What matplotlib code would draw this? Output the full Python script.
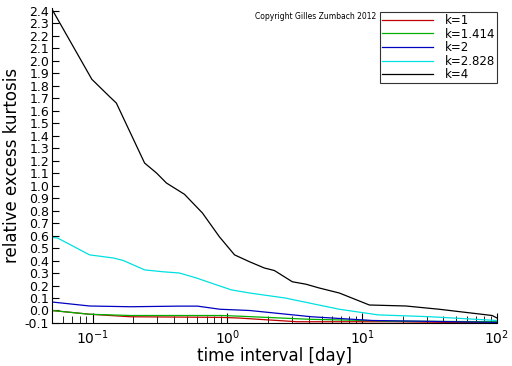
from matplotlib import pyplot as plt
from matplotlib.ticker import LogLocator, NullFormatter
import numpy as np

# time interval [day] and relative excess kurtosis per k
t_k4 = [0.05, 0.0987, 0.134, 0.150, 0.243, 0.298, 0.353, 0.48, 0.653, 0.872,
        1.13, 1.46, 1.88, 2.23, 3.03, 3.84, 4.8, 6.76, 11.3, 21.1, 37.2, 92, 100]
k4 = [2.41, 1.85, 1.71, 1.66, 1.18, 1.10, 1.02, 0.93, 0.78, 0.59,
      0.445, 0.39, 0.34, 0.32, 0.23, 0.21, 0.18, 0.14, 0.044, 0.036, 0.01, -0.04, -0.06]

t_k2828 = [0.05, 0.055, 0.095, 0.143, 0.169, 0.243, 0.332, 0.44, 0.59, 0.83,
           1.07, 1.46, 2.68, 6.76, 13.1, 32, 100]
k2828 = [0.585, 0.58, 0.445, 0.42, 0.40, 0.325, 0.31, 0.30, 0.26, 0.205,
         0.165, 0.14, 0.10, 0.01, -0.035, -0.05, -0.08]

t_k2 = [0.05, 0.095, 0.19, 0.44, 0.6, 0.88, 1.46, 4.2, 11.9, 100]
k2 = [0.068, 0.036, 0.03, 0.035, 0.035, 0.01, 0.0, -0.05, -0.08, -0.095]

t_k1414 = [0.05, 0.095, 0.19, 0.9, 1.2, 4.0, 17, 100]
k1414 = [0.0, -0.03, -0.04, -0.04, -0.045, -0.07, -0.085, -0.09]

t_k1 = [0.05, 0.095, 0.135, 0.19, 0.9, 1.2, 3.3, 17, 100]
k1 = [0.0, -0.03, -0.04, -0.05, -0.055, -0.06, -0.09, -0.09, -0.1]

labels = ["k=1", "k=1.414", "k=2", "k=2.828", "k=4"]
colors = ["#c00000", "#00b000", "#0000c0", "#00e0e0", "black"]
yticks = [round(v, 1) for v in np.arange(-0.1, 2.41, 0.1)]


def main():
    fig = plt.figure(figsize=(5.12, 3.66), dpi=100)
    ax = fig.add_axes([0.1016, 0.1175, 0.8691, 0.8605])

    series = [(t_k1, k1), (t_k1414, k1414), (t_k2, k2), (t_k2828, k2828), (t_k4, k4)]
    for (t, v), lab, c in zip(series, labels, colors):
        ax.plot(t, v, color=c, lw=0.9, label=lab)

    ax.set_xscale("log")
    ax.set_xlim(0.05, 100)
    ax.set_ylim(-0.1, 2.42)
    ax.spines["top"].set_visible(False)
    ax.spines["right"].set_visible(False)

    ax.set_yticks(yticks)
    ax.set_yticklabels([f"{v:.1f}" for v in yticks],
                       family="Liberation Sans Narrow", fontsize=9)
    ax.xaxis.set_major_locator(LogLocator(base=10))
    ax.xaxis.set_minor_locator(LogLocator(base=10, subs=np.arange(2, 10)))
    ax.xaxis.set_minor_formatter(NullFormatter())
    ax.tick_params(axis="both", which="both", direction="in")
    ax.tick_params(axis="y", length=5, pad=2)
    ax.tick_params(axis="x", which="major", length=7, labelsize=10, pad=4)
    ax.tick_params(axis="x", which="minor", length=5)

    ax.set_xlabel("time interval [day]", fontsize=12, labelpad=0)
    ax.set_ylabel("relative excess kurtosis", fontsize=12, labelpad=3)

    leg = ax.legend(loc="upper right", bbox_to_anchor=(1.0, 0.987),
                    frameon=True, fancybox=False, edgecolor="black",
                    handlelength=4.3, handletextpad=1.0, borderpad=0.15,
                    labelspacing=0.05, borderaxespad=0.0,
                    prop={"family": "Liberation Sans Narrow", "size": 8.5})
    leg.get_frame().set_linewidth(0.8)
    fig.text(0.735, 0.955, "Copyright Gilles Zumbach 2012", fontsize=5.5,
             ha="right", va="center")

    plt.savefig("out.png")
    plt.close()


if __name__ == "__main__":
    main()
